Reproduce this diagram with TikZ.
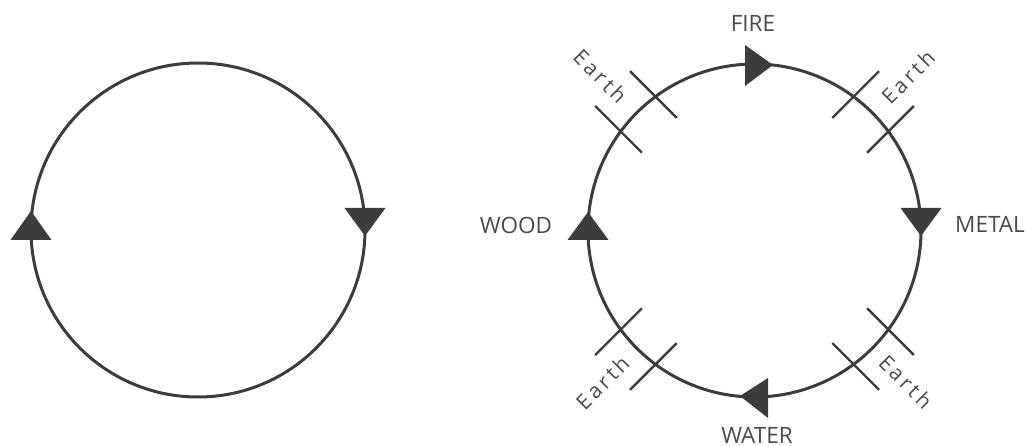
\documentclass[tikz,border=0pt]{standalone}
\usepackage{fontspec}
\setmainfont{Open Sans}
\newfontfamily\earthfont[LetterSpace=15]{Open Sans}
\usetikzlibrary{calc}
\definecolor{ink}{HTML}{3C3C3C}
\definecolor{txt}{HTML}{4A4A4A}
\tikzset{
  ring/.style={draw=ink, line width=3pt},
  tri/.style={fill=ink},
  tickline/.style={draw=ink, line width=2.4pt},
  element/.style={text=txt, font=\fontsize{22.5}{26}\selectfont, inner sep=0pt, anchor=base},
  earthlbl/.style={text=txt, font=\earthfont\fontsize{21}{24}\selectfont, inner sep=0pt}
}
\begin{document}
\begin{tikzpicture}[x=1pt,y=1pt]
\useasboundingbox (0,0) rectangle (1034,445);
% left circle
\coordinate (L) at (198,215);
\draw[ring] (L) circle (167);
\fill[tri] (31,234) -- (10.5,205) -- (51.5,205) -- cycle;
\fill[tri] (344.5,237) -- (385.5,237) -- (365,209) -- cycle;
% right circle
\coordinate (R) at (754.5,214.5);
\draw[ring] (R) circle (166.5);
\fill[tri] (588,233) -- (567.5,205) -- (608.5,205) -- cycle;
\fill[tri] (900.5,237) -- (941.5,237) -- (921,209) -- cycle;
\fill[tri] (773,380) -- (745,400) -- (745,359) -- cycle;
\fill[tri] (740,49) -- (768,67) -- (768,27) -- cycle;
% ticks
\foreach \ph in {45,135,225,315}{
  \foreach \d in {-8.5,8.5}{
    \path (R) ++({\ph+\d}:166.5) coordinate (p);
    \draw[tickline] ($(p)+(\ph:36)$) -- ($(p)+(\ph:-30)$);
  }
}
% labels
\node[element] (fire) at (753,413) {FIRE};
\node[element] (water) at (757,1.5) {WATER};
\node[element] (wood) at (516,211) {WOOD};
\node[element] (metal) at (990,212) {METAL};
\node[earthlbl, rotate=45] (e1) at ($(R)+(45:217)$) {Earth};
\node[earthlbl, rotate=-45] (e2) at ($(R)+(135:218)$) {Earth};
\node[earthlbl, rotate=45] (e3) at ($(R)+(225:215)$) {Earth};
\node[earthlbl, rotate=-45] (e4) at ($(R)+(315:214)$) {Earth};
\end{tikzpicture}
\end{document}
